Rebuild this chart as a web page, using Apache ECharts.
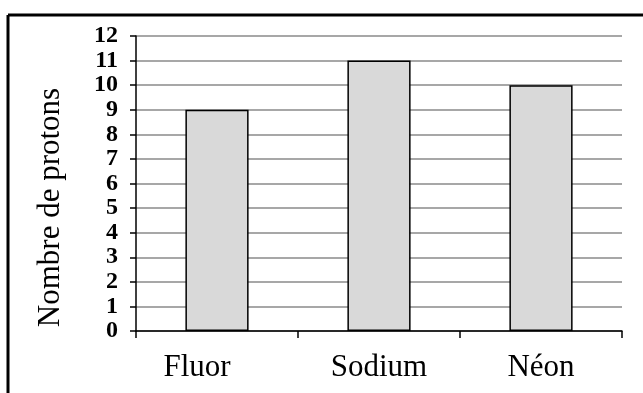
<!DOCTYPE html>
<html>
<head>
<meta charset="utf-8">
<script src="https://cdn.jsdelivr.net/npm/echarts@6/dist/echarts.min.js"></script>
<style>
  html, body { margin: 0; padding: 0; background: #fff; }
  #chart { width: 643px; height: 393px; }
</style>
</head>
<body>
<div id="chart"></div>
<script>
  // données
  const categories = ['Fluor', 'Sodium', 'Néon']
  const protons = [9, 11, 10]
  const yName = 'Nombre de protons'

  const serif = 'Liberation Serif'
  const chart = echarts.init(document.getElementById('chart'))
  chart.setOption({
    animation: false,
    grid: {
      left: 136,
      right: 21,
      top: 36,
      bottom: 62
    },
    // cadre (haut et gauche seulement)
    graphic: [
      { type: 'line', shape: { x1: 8, y1: 15, x2: 643, y2: 15 }, style: { stroke: '#000', lineWidth: 3 } },
      { type: 'line', shape: { x1: 8, y1: 15, x2: 8, y2: 393 }, style: { stroke: '#000', lineWidth: 3 } }
    ],
    xAxis: {
      type: 'category',
      data: categories,
      boundaryGap: true,
      axisLine: { lineStyle: { color: '#000', width: 1.5 } },
      axisTick: { show: true, length: 7, lineStyle: { color: '#000', width: 1.5 } },
      axisLabel: {
        margin: 21,
        color: '#000',
        fontFamily: serif,
        fontSize: 31,
        // le premier libellé est un peu décalé vers la gauche
        formatter: function (v, i) {
          return i === 0 ? '{f|' + v + '}' : v
        },
        rich: {
          f: { fontFamily: serif, fontSize: 31, color: '#000', padding: [0, 40, 0, 0] }
        }
      },
      splitLine: { show: false }
    },
    yAxis: {
      type: 'value',
      min: 0,
      max: 12,
      interval: 1,
      name: yName,
      nameLocation: 'middle',
      nameGap: 70,
      nameTextStyle: {
        color: '#000',
        fontFamily: serif,
        fontSize: 31,
        padding: [0, 48, 0, 0]
      },
      axisLine: { show: true, lineStyle: { color: '#000', width: 1.5 } },
      axisTick: { show: true, length: 6, lineStyle: { color: '#000', width: 1.5 } },
      axisLabel: {
        interval: 0,
        margin: 18,
        color: '#000',
        fontFamily: serif,
        fontWeight: 'bold',
        fontSize: 24,
        lineHeight: 16,
        showMinLabel: true,
        showMaxLabel: true,
        hideOverlap: false
      },
      splitLine: { show: true, lineStyle: { color: '#8a8a8a', width: 1.5 } }
    },
    series: [
      {
        type: 'bar',
        data: protons,
        barWidth: '39%',
        itemStyle: {
          color: '#d9d9d9',
          borderColor: '#000',
          borderWidth: 1.5
        }
      }
    ]
  })
</script>
</body>
</html>
